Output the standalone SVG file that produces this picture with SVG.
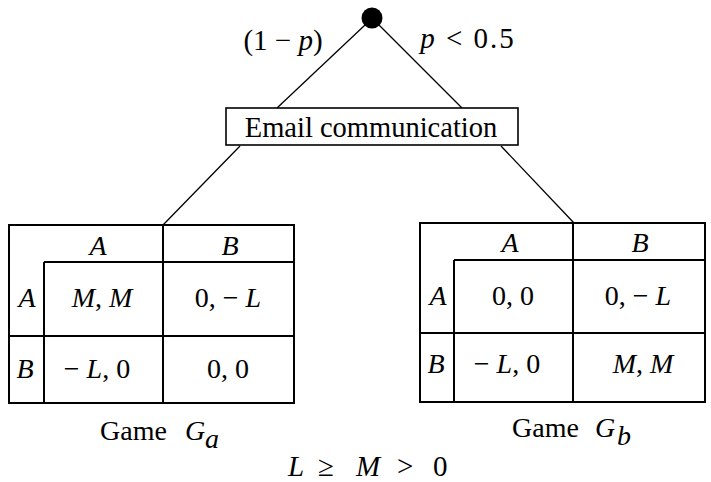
<svg xmlns="http://www.w3.org/2000/svg" width="711" height="482" viewBox="0 0 711 482" font-family="'Liberation Serif', 'DejaVu Serif', serif">
<style>
text{font-family:'Liberation Serif','DejaVu Serif',serif;fill:#000;font-size:28px}
.i{font-style:italic}
.c{text-anchor:middle}
.thin{stroke:#000;stroke-width:1.3;fill:none}
.tb{stroke:#000;stroke-width:2;fill:none}
</style>
<rect width="711" height="482" fill="#fff"/>
<g id="connectors">
<line class="thin" x1="365" y1="25" x2="277" y2="108"/>
<line class="thin" x1="379" y1="25" x2="462" y2="108"/>
<line class="thin" x1="240" y1="146" x2="163" y2="225"/>
<line class="thin" x1="501" y1="146" x2="574" y2="223"/>
</g>
<g id="chance">
<circle cx="372" cy="18" r="10.5" fill="#000"/>
<text x="283" y="50" class="c" style="font-size:29px">(1 − <tspan class="i">p</tspan>)</text>
<text x="468" y="48" class="c" style="font-size:29px;letter-spacing:2px"><tspan class="i">p</tspan> &lt; 0.5</text>
</g>
<g id="email">
<rect x="226" y="108" width="292" height="37" fill="#fff" stroke="#000" stroke-width="1.6"/>
<text x="371" y="137" class="c" style="font-size:28.5px">Email communication</text>
</g>
<g id="gameA">
<rect class="tb" x="9" y="225" width="285" height="178"/>
<line class="tb" x1="163" y1="225" x2="163" y2="403"/>
<line class="tb" x1="44" y1="262" x2="294" y2="262"/>
<line class="tb" x1="44" y1="262" x2="44" y2="403"/>
<line class="tb" x1="9" y1="336" x2="294" y2="336"/>
<text class="i c" x="98" y="255">A</text>
<text class="i c" x="230" y="255">B</text>
<text class="i c" x="27" y="307">A</text>
<text class="i c" x="25" y="378">B</text>
<text class="c" x="102" y="307"><tspan class="i">M</tspan>, <tspan class="i">M</tspan></text>
<text class="c" x="228" y="307">0, − <tspan class="i">L</tspan></text>
<text class="c" x="97" y="378">− <tspan class="i">L</tspan>, 0</text>
<text class="c" x="228" y="378">0, 0</text>
<text x="100" y="440">Game</text>
<text class="i" x="185" y="440">G</text>
<text class="i" x="205" y="448">a</text>
</g>
<g id="gameB">
<rect class="tb" x="420" y="223" width="285" height="179"/>
<line class="tb" x1="573" y1="223" x2="573" y2="402"/>
<line class="tb" x1="454" y1="260" x2="705" y2="260"/>
<line class="tb" x1="454" y1="260" x2="454" y2="402"/>
<line class="tb" x1="420" y1="333" x2="705" y2="333"/>
<text class="i c" x="510" y="252">A</text>
<text class="i c" x="640" y="252">B</text>
<text class="i c" x="438" y="305">A</text>
<text class="i c" x="436" y="373">B</text>
<text class="c" x="513" y="305">0, 0</text>
<text class="c" x="638" y="305">0, − <tspan class="i">L</tspan></text>
<text class="c" x="507" y="373">− <tspan class="i">L</tspan>, 0</text>
<text class="c" x="643" y="373"><tspan class="i">M</tspan>, <tspan class="i">M</tspan></text>
<text x="512" y="437">Game</text>
<text class="i" x="595" y="437">G</text>
<text class="i" x="617" y="445">b</text>
</g>
<g id="condition">
<text y="476" style="font-size:29px"><tspan class="i" x="288">L</tspan><tspan x="318">≥</tspan><tspan class="i" x="356">M</tspan><tspan x="397">&gt;</tspan><tspan x="433">0</tspan></text>
</g>
</svg>
